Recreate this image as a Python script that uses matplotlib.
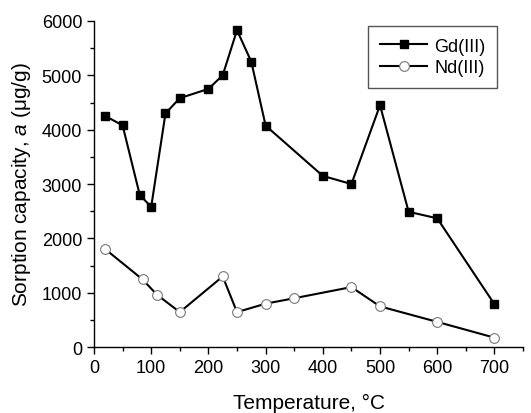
import matplotlib.pyplot as plt
from matplotlib.ticker import MultipleLocator

plt.rcParams['font.family'] = ['Liberation Sans', 'DejaVu Sans']
plt.rcParams['mathtext.fontset'] = 'custom'
plt.rcParams['mathtext.it'] = 'Liberation Sans:italic'
plt.rcParams['mathtext.rm'] = 'Liberation Sans'

gd_t = [20, 50, 80, 100, 125, 150, 200, 225, 250, 275, 300, 400, 450, 500, 550, 600, 700]
gd_a = [4250, 4080, 2800, 2580, 4300, 4580, 4750, 5000, 5830, 5250, 4075, 3150, 3000, 4450, 2490, 2370, 790]

nd_t = [20, 85, 110, 150, 225, 250, 300, 350, 450, 500, 600, 700]
nd_a = [1800, 1245, 965, 645, 1300, 645, 800, 900, 1105, 750, 465, 175]

fig = plt.figure(figsize=(5.31, 4.14), dpi=100)
ax = fig.add_axes([0.177, 0.159, 0.808, 0.788])

ax.plot(gd_t, gd_a, color='black', lw=1.5, marker='s', ms=6, mfc='black', mec='black', label='Gd(III)')
ax.plot(nd_t, nd_a, color='black', lw=1.5, marker='o', ms=7, mfc='white', mec='#777777', mew=0.8, label='Nd(III)')

ax.set_xlim(0, 750)
ax.set_ylim(0, 6000)
ax.xaxis.set_major_locator(MultipleLocator(100))
ax.xaxis.set_minor_locator(MultipleLocator(50))
ax.yaxis.set_major_locator(MultipleLocator(1000))
ax.yaxis.set_minor_locator(MultipleLocator(500))
ax.spines['top'].set_visible(False)
ax.spines['right'].set_visible(False)
for s in ('left', 'bottom'):
    ax.spines[s].set_linewidth(1.0)
ax.tick_params(which='major', direction='out', length=5, width=1, labelsize=13)
ax.tick_params(which='minor', direction='out', length=3, width=1)

ax.set_xlabel('Temperature, °C', fontsize=15, labelpad=12)
ax.set_ylabel('Sorption capacity, $\\it{a}$ (μg/g)', fontsize=15, labelpad=6)

leg = ax.legend(loc='upper right', bbox_to_anchor=(0.94, 0.985), fontsize=13, fancybox=False,
                edgecolor='#555555', framealpha=1, handlelength=2.6, handletextpad=0.4,
                borderpad=0.65, labelspacing=0.25, borderaxespad=0)
leg.get_frame().set_linewidth(1.0)

plt.savefig('out.png')
